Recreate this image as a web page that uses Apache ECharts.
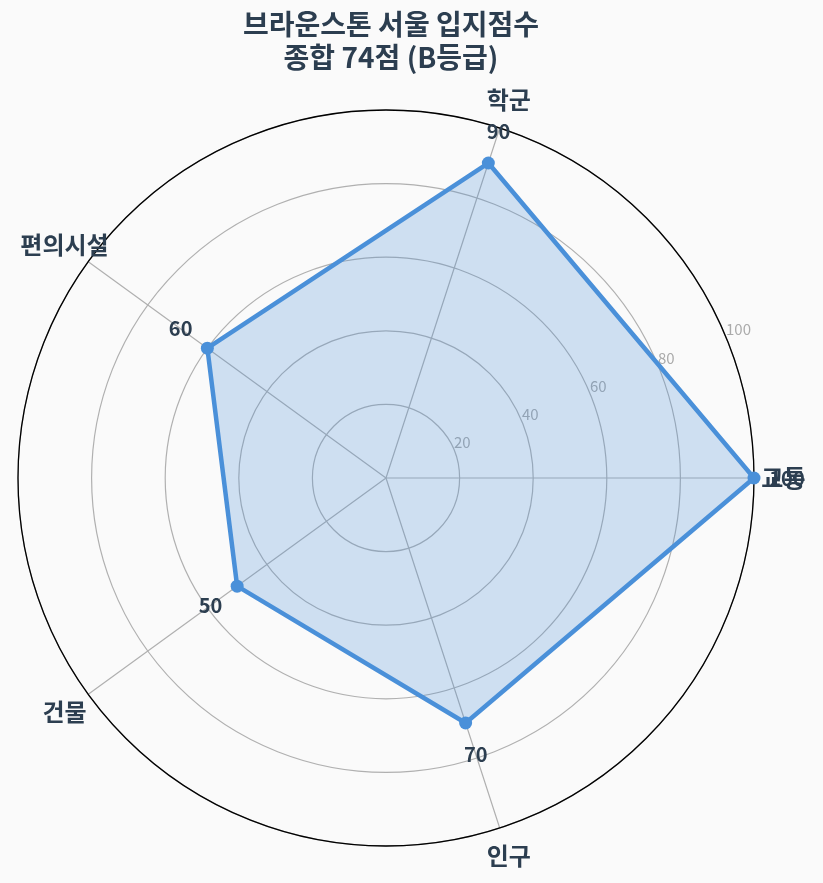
<!DOCTYPE html>
<html>
<head>
<meta charset="utf-8">
<script src="https://cdn.jsdelivr.net/npm/echarts@6/dist/echarts.min.js"></script>
<style>
  html, body { margin: 0; padding: 0; background: #fafafa; }
  #chart { width: 823px; height: 883px; }
</style>
</head>
<body>
<div id="chart"></div>
<script>
// 입지 항목 / 점수
const categories = ['교통', '학군', '편의시설', '건물', '인구']
const scores = [100, 90, 60, 50, 70]
const rTicks = [20, 40, 60, 80, 100]

const FONT = '"Noto Sans CJK KR", "Noto Sans", sans-serif'
const step = 360 / categories.length
const labelGap = 33      // 점수 라벨 거리(px)
const catRadius = 108    // 항목 이름 위치 (반지름 단위)

let pts = scores.map(function (v, i) {
  let a = i * step * Math.PI / 180
  return {
    value: [v, i * step],
    label: {
      show: true,
      position: 'inside',
      offset: [labelGap * Math.cos(a), -labelGap * Math.sin(a)]
    }
  }
})
// 다각형 닫기
pts.push({ value: [scores[0], 360], symbol: 'none', label: { show: false } })

let catPts = categories.map(function (c, i) {
  return { name: c, value: [catRadius, i * step] }
})

let myChart = echarts.init(document.getElementById('chart'))
myChart.setOption({
  backgroundColor: '#fafafa',
  textStyle: { fontFamily: FONT },
  title: {
    text: '브라운스톤 서울 입지점수\n종합 74점 (B등급)',
    left: 386,
    textAlign: 'center',
    top: 3,
    textStyle: { fontFamily: FONT, fontSize: 28, fontWeight: 'bold', color: '#2c3e50', lineHeight: 33 }
  },
  polar: [
    { center: [386, 478], radius: 368 },
    { center: [386, 478], radius: 368 }
  ],
  angleAxis: [
    {
      polarIndex: 0,
      type: 'value',
      min: 0,
      max: 360,
      interval: step,
      startAngle: 0,
      clockwise: false,
      axisLine: { lineStyle: { color: '#000', width: 1.3 } },
      axisTick: { show: false },
      axisLabel: { show: false },
      splitLine: { lineStyle: { color: '#b0b0b0', width: 1.2 } }
    },
    {
      polarIndex: 1,
      type: 'value',
      min: 0,
      max: 360,
      startAngle: 22.5,
      clockwise: false,
      show: false
    }
  ],
  radiusAxis: [
    {
      polarIndex: 0,
      min: 0,
      max: 100,
      interval: 20,
      axisLine: { show: false },
      axisTick: { show: false },
      axisLabel: { show: false },
      splitLine: { lineStyle: { color: '#b0b0b0', width: 1.2 } }
    },
    {
      polarIndex: 1,
      min: 0,
      max: 100,
      interval: 20,
      axisLine: { show: false },
      axisTick: { show: false },
      splitLine: { show: false },
      axisLabel: {
        margin: 0,
        align: 'left',
        verticalAlign: 'bottom',
        fontFamily: FONT,
        fontSize: 15,
        color: '#aaaaaa',
        formatter: function (v) { return rTicks.indexOf(v) >= 0 ? String(v) : '' }
      }
    }
  ],
  series: [
    {
      type: 'line',
      coordinateSystem: 'polar',
      polarIndex: 0,
      data: pts,
      symbol: 'circle',
      symbolSize: 13,
      lineStyle: { color: '#4a90d9', width: 4.5 },
      itemStyle: { color: '#4a90d9' },
      areaStyle: { color: 'rgba(74, 144, 217, 0.25)', opacity: 1 },
      label: {
        fontFamily: FONT,
        fontSize: 20,
        fontWeight: 'bold',
        color: '#2c3e50',
        formatter: function (p) { return p.value[0] }
      },
      z: 5
    },
    {
      // 항목 이름
      type: 'scatter',
      coordinateSystem: 'polar',
      polarIndex: 0,
      data: catPts,
      clip: false,
      silent: true,
      symbolSize: 1,
      itemStyle: { color: 'rgba(0,0,0,0)', opacity: 1 },
      label: {
        show: true,
        position: 'inside',
        fontFamily: FONT,
        fontSize: 24,
        fontWeight: 'bold',
        color: '#2c3e50',
        formatter: '{b}'
      },
      z: 6
    }
  ]
})
</script>
</body>
</html>
